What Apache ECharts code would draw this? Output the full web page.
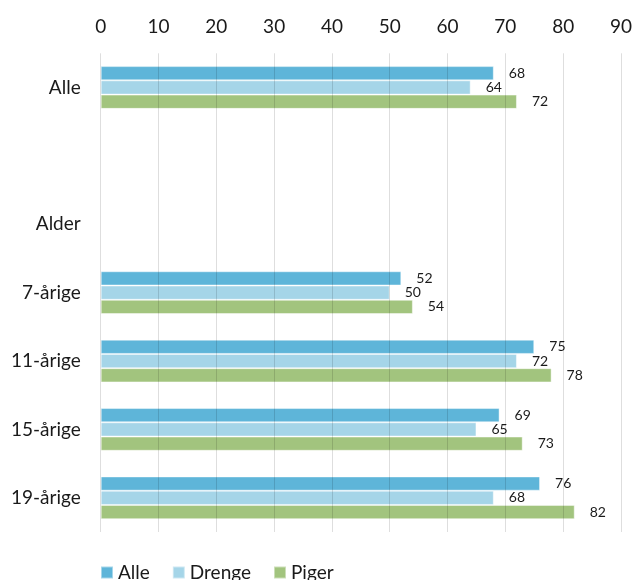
<!DOCTYPE html>
<html>
<head>
<meta charset="utf-8">
<script src="https://cdn.jsdelivr.net/npm/echarts@6/dist/echarts.min.js"></script>
<style>
html,body{margin:0;padding:0;background:#fff;}
#c{width:635px;height:580px;}
</style>
</head>
<body>
<div id="c"></div>
<script>
var categories = ['Alle', '', 'Alder', '7-årige', '11-årige', '15-årige', '19-årige'];
var seriesNames = ['Alle', 'Drenge', 'Piger'];
var alleValues = [68, null, null, 52, 75, 69, 76];
var drengeValues = [64, null, null, 50, 72, 65, 68];
var pigerValues = [72, null, null, 54, 78, 73, 82];
var xTicks = [0, 10, 20, 30, 40, 50, 60, 70, 80, 90];

var colors = ['#5EB5D9', '#A5D5E8', '#A2C47E'];
var FONT = 'Lato, "Noto Sans", sans-serif';

function mkSeries(name, data, color) {
  return {
    name: name,
    type: 'bar',
    data: data,
    barGap: '0%',
    barCategoryGap: '37.5%',
    itemStyle: { color: color, borderColor: 'rgba(255,255,255,0.45)', borderWidth: 1 },
    label: {
      show: true,
      position: 'right',
      distance: 15,
      fontSize: 14,
      fontFamily: FONT,
      color: '#1a1a1a'
    },
    emphasis: { disabled: true }
  };
}

var chart = echarts.init(document.getElementById('c'), null, { renderer: 'canvas' });
chart.setOption({
  animation: false,
  backgroundColor: '#ffffff',
  textStyle: { fontFamily: FONT },
  grid: { left: 100.7, right: 12.7, top: 53.3, bottom: 48, containLabel: false },
  legend: {
    data: seriesNames,
    left: 95,
    top: 558,
    icon: 'rect',
    itemWidth: 12,
    itemHeight: 12,
    itemGap: 22,
    textStyle: { fontSize: 19, fontFamily: FONT, color: '#1a1a1a' }
  },
  xAxis: {
    type: 'value',
    position: 'top',
    min: xTicks[0],
    max: xTicks[xTicks.length - 1],
    interval: 10,
    z: 3,
    axisLine: { show: false },
    axisTick: { show: false },
    axisLabel: { fontSize: 19, fontFamily: FONT, color: '#1a1a1a', margin: 17 },
    splitLine: { show: true, lineStyle: { color: 'rgba(0,0,0,0.13)', width: 1 } }
  },
  yAxis: {
    type: 'category',
    data: categories,
    inverse: true,
    axisLine: { show: false },
    axisTick: { show: false },
    axisLabel: { fontSize: 19, fontFamily: FONT, color: '#1a1a1a', margin: 20 }
  },
  series: [
    mkSeries(seriesNames[0], alleValues, colors[0]),
    mkSeries(seriesNames[1], drengeValues, colors[1]),
    mkSeries(seriesNames[2], pigerValues, colors[2])
  ]
});
</script>
</body>
</html>
